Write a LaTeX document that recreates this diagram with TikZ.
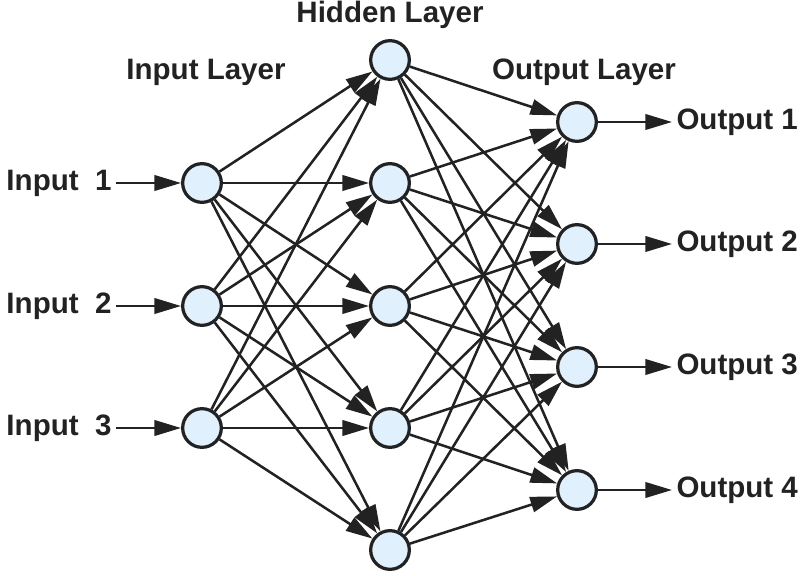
\documentclass[tikz,border=0pt]{standalone}
\usepackage{fontspec}
\setmainfont{Liberation Sans}
\usetikzlibrary{arrows.meta,positioning}
\definecolor{ink}{HTML}{222222}
\definecolor{cellblue}{HTML}{E0F0FC}

\begin{document}
\begin{tikzpicture}[
    x=0.025cm, y=-0.025cm,
    every node/.style={font=\fontsize{21}{25}\selectfont\bfseries, text=ink},
    neuron/.style={circle, draw=ink, fill=cellblue, line width=2.3pt, minimum size=27.5pt, inner sep=0pt},
    link/.style={draw=ink, line width=1.8pt, -{Triangle[length=19pt,width=11pt]}},
    layertitle/.style={anchor=center},
]
\useasboundingbox (0,0) rectangle (800,576);

% Neurons
\foreach \i/\y in {1/183, 2/306, 3/428} {
    \node[neuron] (in\i) at (202,\y) {};
}
\foreach \i/\y in {1/60, 2/183, 3/306, 4/428, 5/550} {
    \node[neuron] (hid\i) at (390,\y) {};
}
\foreach \i/\y in {1/122, 2/244, 3/367, 4/490} {
    \node[neuron] (out\i) at (577,\y) {};
}

% Layer titles
\node[layertitle] (tin) at (206,72) {Input Layer};
\node[layertitle] (thid) at (390,15) {Hidden Layer};
\node[layertitle] (tout) at (584,72) {Output Layer};

% Inputs and outputs
\foreach \i in {1,2,3} {
    \node[anchor=west, inner sep=3pt] (lin\i) at (in\i -| 2,0) {Input\ \ \i};
    \draw[link] (lin\i.east) -- (in\i);
}
\foreach \i in {1,2,3,4} {
    \node[anchor=west, inner sep=3pt] (lout\i) at (out\i -| 672,0) {Output \i};
    \draw[link] (out\i) -- (lout\i.west);
}

% Weights
\foreach \i in {1,2,3} {
    \foreach \j in {1,...,5} {
        \draw[link] (in\i) -- (hid\j);
    }
}
\foreach \j in {1,...,5} {
    \foreach \k in {1,...,4} {
        \draw[link] (hid\j) -- (out\k);
    }
}

\end{tikzpicture}
\end{document}
